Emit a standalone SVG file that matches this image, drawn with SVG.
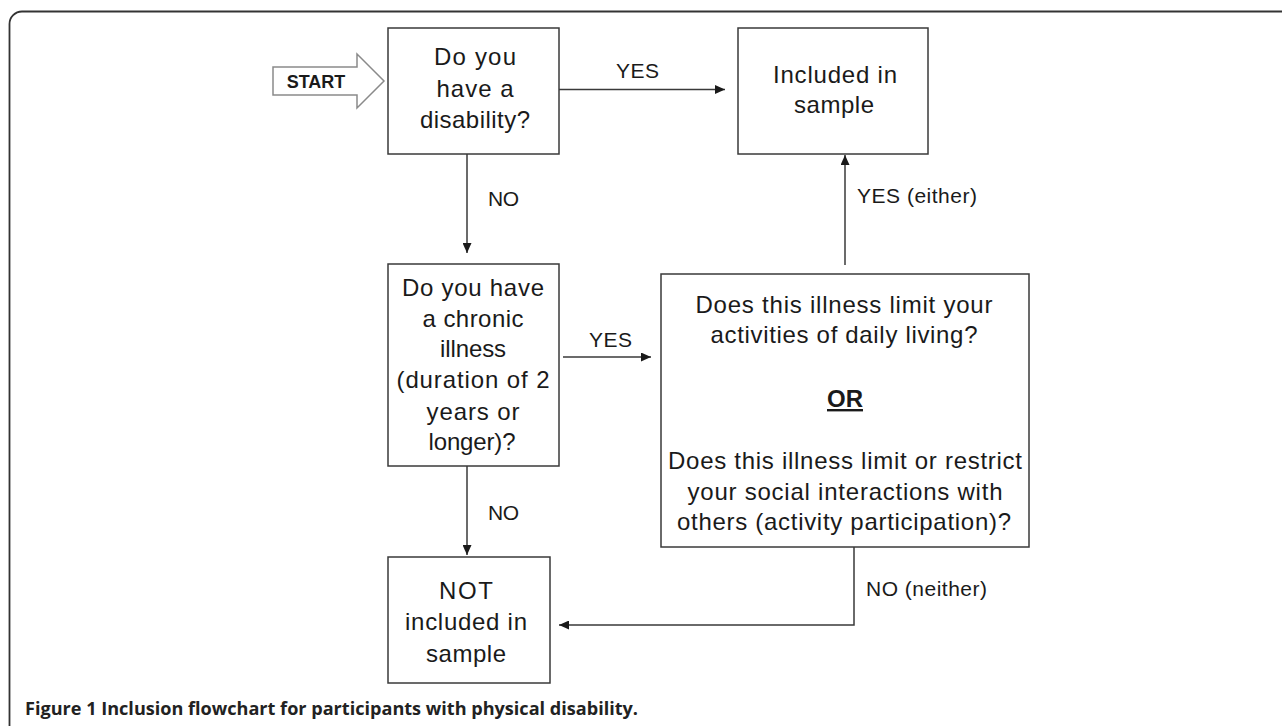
<svg xmlns="http://www.w3.org/2000/svg" width="1282" height="726" viewBox="0 0 1282 726">
<style>
.box{fill:#fff;stroke:#3a3a3a;stroke-width:1.5}
.t{font-family:"Liberation Sans",Arial,sans-serif;font-size:24px;fill:#1a1a1a;text-anchor:middle}
.lbl{font-family:"Liberation Sans",Arial,sans-serif;font-size:21px;fill:#1a1a1a}
.con{fill:none;stroke:#3a3a3a;stroke-width:1.5;marker-end:url(#ah)}
</style>
<defs>
<marker id="ah" markerUnits="userSpaceOnUse" markerWidth="11" markerHeight="9" refX="10" refY="4.5" orient="auto">
<path d="M0,0 L10,4.5 L0,9 z" fill="#1a1a1a"/>
</marker>
</defs>
<rect width="1282" height="726" fill="#fff"/>
<path d="M9.5,726 L9.5,24 A12.5,12.5 0 0 1 22,11.5 L1282,11.5" fill="none" stroke="#333" stroke-width="1.8"/>

<g id="start">
<polygon points="273,67 357,67 357,54 384,81 357,108 357,95 273,95" fill="#fff" stroke="#8a8a8a" stroke-width="1.5"/>
<text x="316" y="88" font-family="Liberation Sans,Arial,sans-serif" font-size="18" font-weight="bold" fill="#1a1a1a" text-anchor="middle">START</text>
</g>

<g id="q1">
<rect class="box" x="388" y="28" width="171" height="126"/>
<text class="t" x="475" y="65" textLength="82" lengthAdjust="spacing">Do you</text>
<text class="t" x="475" y="97" textLength="77" lengthAdjust="spacing">have a</text>
<text class="t" x="475" y="128" textLength="110" lengthAdjust="spacing">disability?</text>
</g>

<g id="included">
<rect class="box" x="738" y="28" width="190" height="126"/>
<text class="t" x="835" y="83" textLength="124" lengthAdjust="spacing">Included  in</text>
<text class="t" x="834" y="113" textLength="80" lengthAdjust="spacing">sample</text>
</g>

<g id="q2">
<rect class="box" x="388" y="264" width="171" height="202"/>
<text class="t" x="473" y="296" textLength="142" lengthAdjust="spacing">Do you have</text>
<text class="t" x="473" y="327" textLength="101" lengthAdjust="spacing">a chronic</text>
<text class="t" x="473" y="357" textLength="66" lengthAdjust="spacing">illness</text>
<text class="t" x="473" y="388" textLength="153" lengthAdjust="spacing">(duration of 2</text>
<text class="t" x="473" y="420" textLength="93" lengthAdjust="spacing">years or</text>
<text class="t" x="472" y="450" textLength="87" lengthAdjust="spacing">longer)?</text>
</g>

<g id="q3">
<rect class="box" x="661" y="274" width="368" height="273"/>
<text class="t" x="844" y="313" textLength="297" lengthAdjust="spacing">Does this illness limit your</text>
<text class="t" x="844" y="343" textLength="267" lengthAdjust="spacing">activities of daily living?</text>
<text class="t" x="845" y="407" font-weight="bold" text-decoration="underline">OR</text>
<text class="t" x="845" y="469" textLength="354" lengthAdjust="spacing">Does this illness limit or restrict</text>
<text class="t" x="845" y="500" textLength="315" lengthAdjust="spacing">your social interactions with</text>
<text class="t" x="844" y="530" textLength="334" lengthAdjust="spacing">others (activity participation)?</text>
</g>

<g id="excluded">
<rect class="box" x="388" y="557" width="162" height="126"/>
<text class="t" x="466" y="599" textLength="54" lengthAdjust="spacing">NOT</text>
<text class="t" x="466" y="630" textLength="122" lengthAdjust="spacing">included  in</text>
<text class="t" x="466" y="662" textLength="80" lengthAdjust="spacing">sample</text>
</g>

<g id="connectors">
<line class="con" x1="559" y1="89.5" x2="725" y2="89.5"/>
<line class="con" x1="467" y1="154" x2="467" y2="253"/>
<line class="con" x1="563" y1="357" x2="651" y2="357"/>
<line class="con" x1="845" y1="265" x2="845" y2="155"/>
<line class="con" x1="467" y1="466" x2="467" y2="555"/>
<polyline class="con" points="854,547 854,625 559,625"/>
<text class="lbl" x="616" y="78" textLength="43" lengthAdjust="spacing">YES</text>
<text class="lbl" x="488" y="206" textLength="31" lengthAdjust="spacing">NO</text>
<text class="lbl" x="589" y="347" textLength="43" lengthAdjust="spacing">YES</text>
<text class="lbl" x="857" y="203" textLength="120" lengthAdjust="spacing">YES (either)</text>
<text class="lbl" x="488" y="520" textLength="31" lengthAdjust="spacing">NO</text>
<text class="lbl" x="866" y="596" textLength="121" lengthAdjust="spacing">NO (neither)</text>
</g>

<text x="25" y="715" font-family="Open Sans,Liberation Sans,sans-serif" font-size="18" font-weight="bold" fill="#222" textLength="613" lengthAdjust="spacingAndGlyphs">Figure 1 Inclusion flowchart for participants with physical disability.</text>
</svg>
